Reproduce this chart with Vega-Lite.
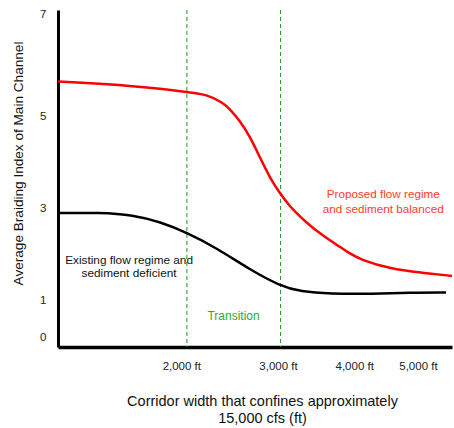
{
  "$schema": "https://vega.github.io/schema/vega-lite/v6.json",
  "autosize": "none",
  "width": 394,
  "height": 337,
  "padding": {"left": 58, "top": 10, "right": 2, "bottom": 81},
  "background": "white",
  "config": {
    "font": "Liberation Sans",
    "view": {"stroke": null}
  },
  "layer": [
    {
      "data": {"values": [{"w": 2050}, {"w": 3030}]},
      "mark": {"type": "rule", "color": "#1a9a1a", "strokeWidth": 1, "strokeDash": [4, 3]},
      "encoding": {
        "x": {"field": "w", "type": "quantitative", "scale": {"type": "pow", "exponent": 0.3, "domain": [1097, 5600], "nice": false, "zero": false}}
      }
    },
    {
      "data": {"values": [
        {"series": "proposed", "width": 1097, "index": 5.75},
        {"series": "proposed", "width": 1480, "index": 5.69},
        {"series": "proposed", "width": 2050, "index": 5.53},
        {"series": "proposed", "width": 2238, "index": 5.47},
        {"series": "proposed", "width": 2399, "index": 5.29},
        {"series": "proposed", "width": 2467, "index": 5.15},
        {"series": "proposed", "width": 2572, "index": 4.90},
        {"series": "proposed", "width": 2680, "index": 4.56},
        {"series": "proposed", "width": 2792, "index": 4.10},
        {"series": "proposed", "width": 2906, "index": 3.66},
        {"series": "proposed", "width": 3025, "index": 3.32},
        {"series": "proposed", "width": 3145, "index": 3.04},
        {"series": "proposed", "width": 3272, "index": 2.82},
        {"series": "proposed", "width": 3396, "index": 2.63},
        {"series": "proposed", "width": 3527, "index": 2.46},
        {"series": "proposed", "width": 3660, "index": 2.31},
        {"series": "proposed", "width": 3797, "index": 2.17},
        {"series": "proposed", "width": 3909, "index": 2.05},
        {"series": "proposed", "width": 4093, "index": 1.89},
        {"series": "proposed", "width": 4554, "index": 1.69},
        {"series": "proposed", "width": 5049, "index": 1.61},
        {"series": "proposed", "width": 5600, "index": 1.54},
        {"series": "existing", "width": 1097, "index": 2.90},
        {"series": "existing", "width": 1363, "index": 2.91},
        {"series": "existing", "width": 1602, "index": 2.86},
        {"series": "existing", "width": 1818, "index": 2.71},
        {"series": "existing", "width": 2050, "index": 2.48},
        {"series": "existing", "width": 2336, "index": 2.14},
        {"series": "existing", "width": 2684, "index": 1.67},
        {"series": "existing", "width": 3029, "index": 1.32},
        {"series": "existing", "width": 3273, "index": 1.20},
        {"series": "existing", "width": 3668, "index": 1.15},
        {"series": "existing", "width": 4243, "index": 1.15},
        {"series": "existing", "width": 4880, "index": 1.18},
        {"series": "existing", "width": 5492, "index": 1.18}
      ]},
      "mark": {"type": "line", "strokeWidth": 2.5, "interpolate": "basis"},
      "encoding": {
        "x": {
          "field": "width", "type": "quantitative",
          "scale": {"type": "pow", "exponent": 0.3, "domain": [1097, 5600], "nice": false, "zero": false},
          "axis": {
            "values": [2000, 3000, 4000, 5000],
            "labelExpr": "format(datum.value, ',') + ' ft'",
            "ticks": false, "tickSize": 0, "grid": false,
            "domainColor": "#000000", "domainWidth": 3.5,
            "labelFontSize": 11.5, "labelColor": "#222222", "labelPadding": 13,
            "labelFlush": false,
            "title": ["Corridor width that confines approximately", "15,000 cfs (ft)"],
            "titleFontSize": 14.5, "titleFontWeight": "normal", "titleColor": "#111111",
            "titleX": 204, "titleY": 47, "titleAlign": "center", "titleBaseline": "top",
            "titleLineHeight": 17.5
          }
        },
        "y": {
          "field": "index", "type": "quantitative",
          "scale": {"domain": [0, 7.3], "nice": false, "zero": true},
          "axis": {
            "values": [0, 1, 3, 5, 7],
            "ticks": false, "tickSize": 0, "grid": false,
            "domainColor": "#000000", "domainWidth": 3,
            "labelFontSize": 11.5, "labelColor": "#222222", "labelPadding": 12,
            "labelFlush": false,
            "labelOffset": {"condition": [{"test": "datum.value == 0", "value": -10}, {"test": "datum.value == 7", "value": -9}], "value": 0},
            "title": "Average Braiding Index of Main Channel",
            "titleFontSize": 13.6, "titleFontWeight": "normal", "titleColor": "#111111",
            "titleX": -40, "titleY": 153, "titleAlign": "center", "titleBaseline": "middle", "titleAngle": -90
          }
        },
        "color": {
          "field": "series", "type": "nominal",
          "scale": {"domain": ["proposed", "existing"], "range": ["#ff0000", "#000000"]},
          "legend": null
        }
      }
    },
    {
      "data": {"values": [
        {"x": 4436, "y": 3.31, "t": "Proposed flow regime"},
        {"x": 4436, "y": 2.99, "t": "and sediment balanced"}
      ]},
      "mark": {"type": "text", "color": "#ff3d1f", "fontSize": 11.7, "align": "center", "baseline": "middle"},
      "encoding": {
        "x": {"field": "x", "type": "quantitative"},
        "y": {"field": "y", "type": "quantitative"},
        "text": {"field": "t"}
      }
    },
    {
      "data": {"values": [
        {"x": 1571, "y": 1.88, "t": "Existing flow regime and"},
        {"x": 1571, "y": 1.60, "t": "sediment deficient"}
      ]},
      "mark": {"type": "text", "color": "#111111", "fontSize": 11.8, "align": "center", "baseline": "middle"},
      "encoding": {
        "x": {"field": "x", "type": "quantitative"},
        "y": {"field": "y", "type": "quantitative"},
        "text": {"field": "t"}
      }
    },
    {
      "data": {"values": [{"x": 2505, "y": 0.67, "t": "Transition"}]},
      "mark": {"type": "text", "color": "#33aa33", "fontSize": 12, "align": "center", "baseline": "middle"},
      "encoding": {
        "x": {"field": "x", "type": "quantitative"},
        "y": {"field": "y", "type": "quantitative"},
        "text": {"field": "t"}
      }
    },
    {
      "mark": {"type": "point", "shape": "M0,0L-0.5,1.1L0.5,1.1Z", "size": 256, "filled": true, "color": "#000000", "opacity": 1},
      "encoding": {
        "x": {"datum": 1097, "type": "quantitative"},
        "y": {"datum": 7.3, "type": "quantitative"}
      }
    },
    {
      "mark": {"type": "point", "shape": "M0.9,0L-0.2,-0.5L-0.2,0.5Z", "size": 256, "filled": true, "color": "#000000", "opacity": 1},
      "encoding": {
        "x": {"datum": 5600, "type": "quantitative"},
        "y": {"datum": 0, "type": "quantitative"}
      }
    }
  ]
}
